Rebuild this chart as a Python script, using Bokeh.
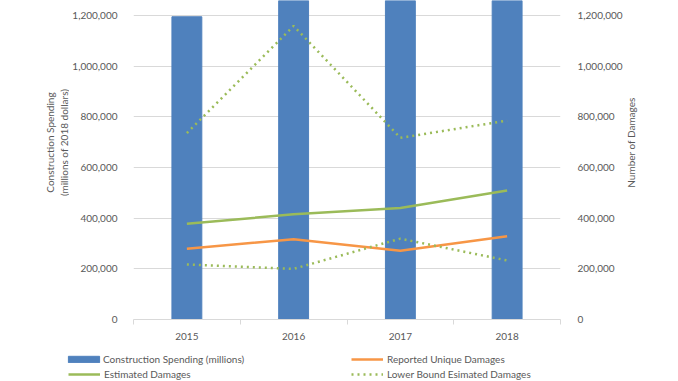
import math
from bokeh.plotting import figure
from bokeh.layouts import row
from bokeh.models import (Range1d, LinearAxis, FixedTicker, NumeralTickFormatter,
                          Legend, LegendItem, Label)
from bokeh.embed import file_html
from bokeh.resources import INLINE

years = ["2015", "2016", "2017", "2018"]
construction_spending = [1195000, 1300000, 1320000, 1335000]
reported_unique = [279000, 317000, 271000, 329000]
estimated = [378000, 415000, 440000, 509000]
lower_bound = [217000, 200000, 319000, 233000]
upper_bound = [736000, 1159000, 717000, 785000]
y_ticks = [0, 200000, 400000, 600000, 800000, 1000000, 1200000]
left_title = ["Construction Spending", "(millions of 2018 dollars)"]
right_title = "Number of Damages"

FONT = "Lato"
FS = "10px"
TXT = "#595959"
GRID = "#d9d9d9"
BLUE = "#4f81bd"
ORANGE = "#f79646"
GREEN = "#9bbb59"

Y_END = 1259200
H = 343
LW = 69
BL, BR = 64, 65
FW, FH = 427, 319
RW = 678 - LW - BL - FW - BR

x = [i + 0.5 for i in range(len(years))]

p = figure(output_backend="svg", toolbar_location=None,
           frame_width=FW, frame_height=FH,
           x_range=Range1d(0, len(years)), y_range=Range1d(0, Y_END),
           min_border_left=BL, min_border_right=BR, min_border_top=0,
           min_border_bottom=H - FH)
p.outline_line_color = None
p.background_fill_color = "white"
p.border_fill_color = "white"
p.extra_y_ranges = {"dmg": Range1d(0, Y_END)}

# bars
bars = p.vbar(x=x, top=construction_spending, width=0.28, color=BLUE)
# lines on right axis
r_rep = p.line(x, reported_unique, line_color=ORANGE, line_width=2.5, y_range_name="dmg")
r_est = p.line(x, estimated, line_color=GREEN, line_width=2.5, y_range_name="dmg")
r_low = p.line(x, lower_bound, line_color=GREEN, line_width=2.5, line_dash="2 4",
               y_range_name="dmg")
r_up = p.line(x, upper_bound, line_color=GREEN, line_width=2.5, line_dash="2 4",
              y_range_name="dmg")

# x axis
xa = p.xaxis[0]
xa.ticker = FixedTicker(ticks=x, minor_ticks=list(range(len(years) + 1)))
xa.major_label_overrides = {xv: yr for xv, yr in zip(x, years)}
xa.major_tick_out = 0
xa.major_tick_in = 0
xa.minor_tick_out = 5
xa.minor_tick_in = 0
xa.minor_tick_line_color = GRID
xa.axis_line_color = GRID
xa.major_label_standoff = 8
xa.major_label_text_font = FONT
xa.major_label_text_font_size = FS
xa.major_label_text_color = TXT

# left y axis
ya = p.yaxis[0]
ya.ticker = FixedTicker(ticks=y_ticks)
ya.formatter = NumeralTickFormatter(format="0,0")
ya.axis_line_color = None
ya.major_tick_line_color = None
ya.minor_tick_line_color = None
ya.major_label_standoff = 10
ya.major_label_text_font = FONT
ya.major_label_text_font_size = FS
ya.major_label_text_color = TXT

# right y axis
ra = LinearAxis(y_range_name="dmg", ticker=FixedTicker(ticks=y_ticks),
                formatter=NumeralTickFormatter(format="0,0"))
ra.axis_line_color = None
ra.major_tick_line_color = None
ra.minor_tick_line_color = None
ra.major_label_standoff = 11
ra.major_label_text_font = FONT
ra.major_label_text_font_size = FS
ra.major_label_text_color = TXT
p.add_layout(ra, "right")

p.xgrid.grid_line_color = None
p.ygrid.grid_line_color = GRID
p.ygrid.ticker = FixedTicker(ticks=y_ticks)


def side_panel(width):
    f = figure(width=width, height=H, output_backend="svg", toolbar_location=None,
               x_axis_type=None, y_axis_type=None, min_border=0,
               min_border_bottom=H - FH, x_range=Range1d(0, 1), y_range=Range1d(0, 1))
    f.outline_line_color = None
    f.xgrid.visible = False
    f.ygrid.visible = False
    return f


def title_label(fig, text, sx, sy):
    fig.add_layout(Label(x=sx, y=sy, x_units="screen", y_units="screen", text=text,
                         angle=math.pi / 2, text_align="center",
                         text_baseline="middle", text_font=FONT,
                         text_font_size=FS, text_color=TXT))


lt = side_panel(LW)
title_label(lt, left_title[0], 49, 177)
title_label(lt, left_title[1], 63, 177)
rt = side_panel(RW)
title_label(rt, right_title, 5, 177)

# legend strip below the chart (series drawn out of view, used as legend keys)
lg = figure(width=678, height=38, output_backend="svg", toolbar_location=None,
            x_axis_type=None, y_axis_type=None, min_border=0,
            x_range=Range1d(-20, -10), y_range=Range1d(-20, -10))
lg.outline_line_color = None
lg.xgrid.visible = False
lg.ygrid.visible = False
d_bar = lg.vbar(x=x, top=construction_spending, width=0.28, color=BLUE)
d_rep = lg.line(x, reported_unique, line_color=ORANGE, line_width=2.5)
d_est = lg.line(x, estimated, line_color=GREEN, line_width=2.5)
d_low = lg.line(x, lower_bound, line_color=GREEN, line_width=2.5, line_dash="2 4")


def add_legend(renderer, label, loc, gw, gh, standoff):
    leg = Legend(items=[LegendItem(label=label, renderers=[renderer])],
                 location=loc, glyph_width=gw, glyph_height=gh,
                 label_standoff=standoff, label_height=14, padding=0, margin=0,
                 spacing=0, border_line_color=None, background_fill_alpha=0,
                 label_text_font=FONT, label_text_font_size=FS,
                 label_text_color=TXT)
    lg.add_layout(leg)


add_legend(d_bar, "Construction Spending (millions)", (64, 15), 39, 8, 0)
add_legend(d_est, "Estimated Damages", (68, 0), 32, 14, 4)
add_legend(d_rep, "Reported Unique Damages", (351, 15), 32, 14, 4)
add_legend(d_low, "Lower Bound Esimated Damages", (351, 0), 32, 14, 4)

open("out.html", "w").write(file_html([row(lt, p, rt, spacing=0), lg], INLINE))
